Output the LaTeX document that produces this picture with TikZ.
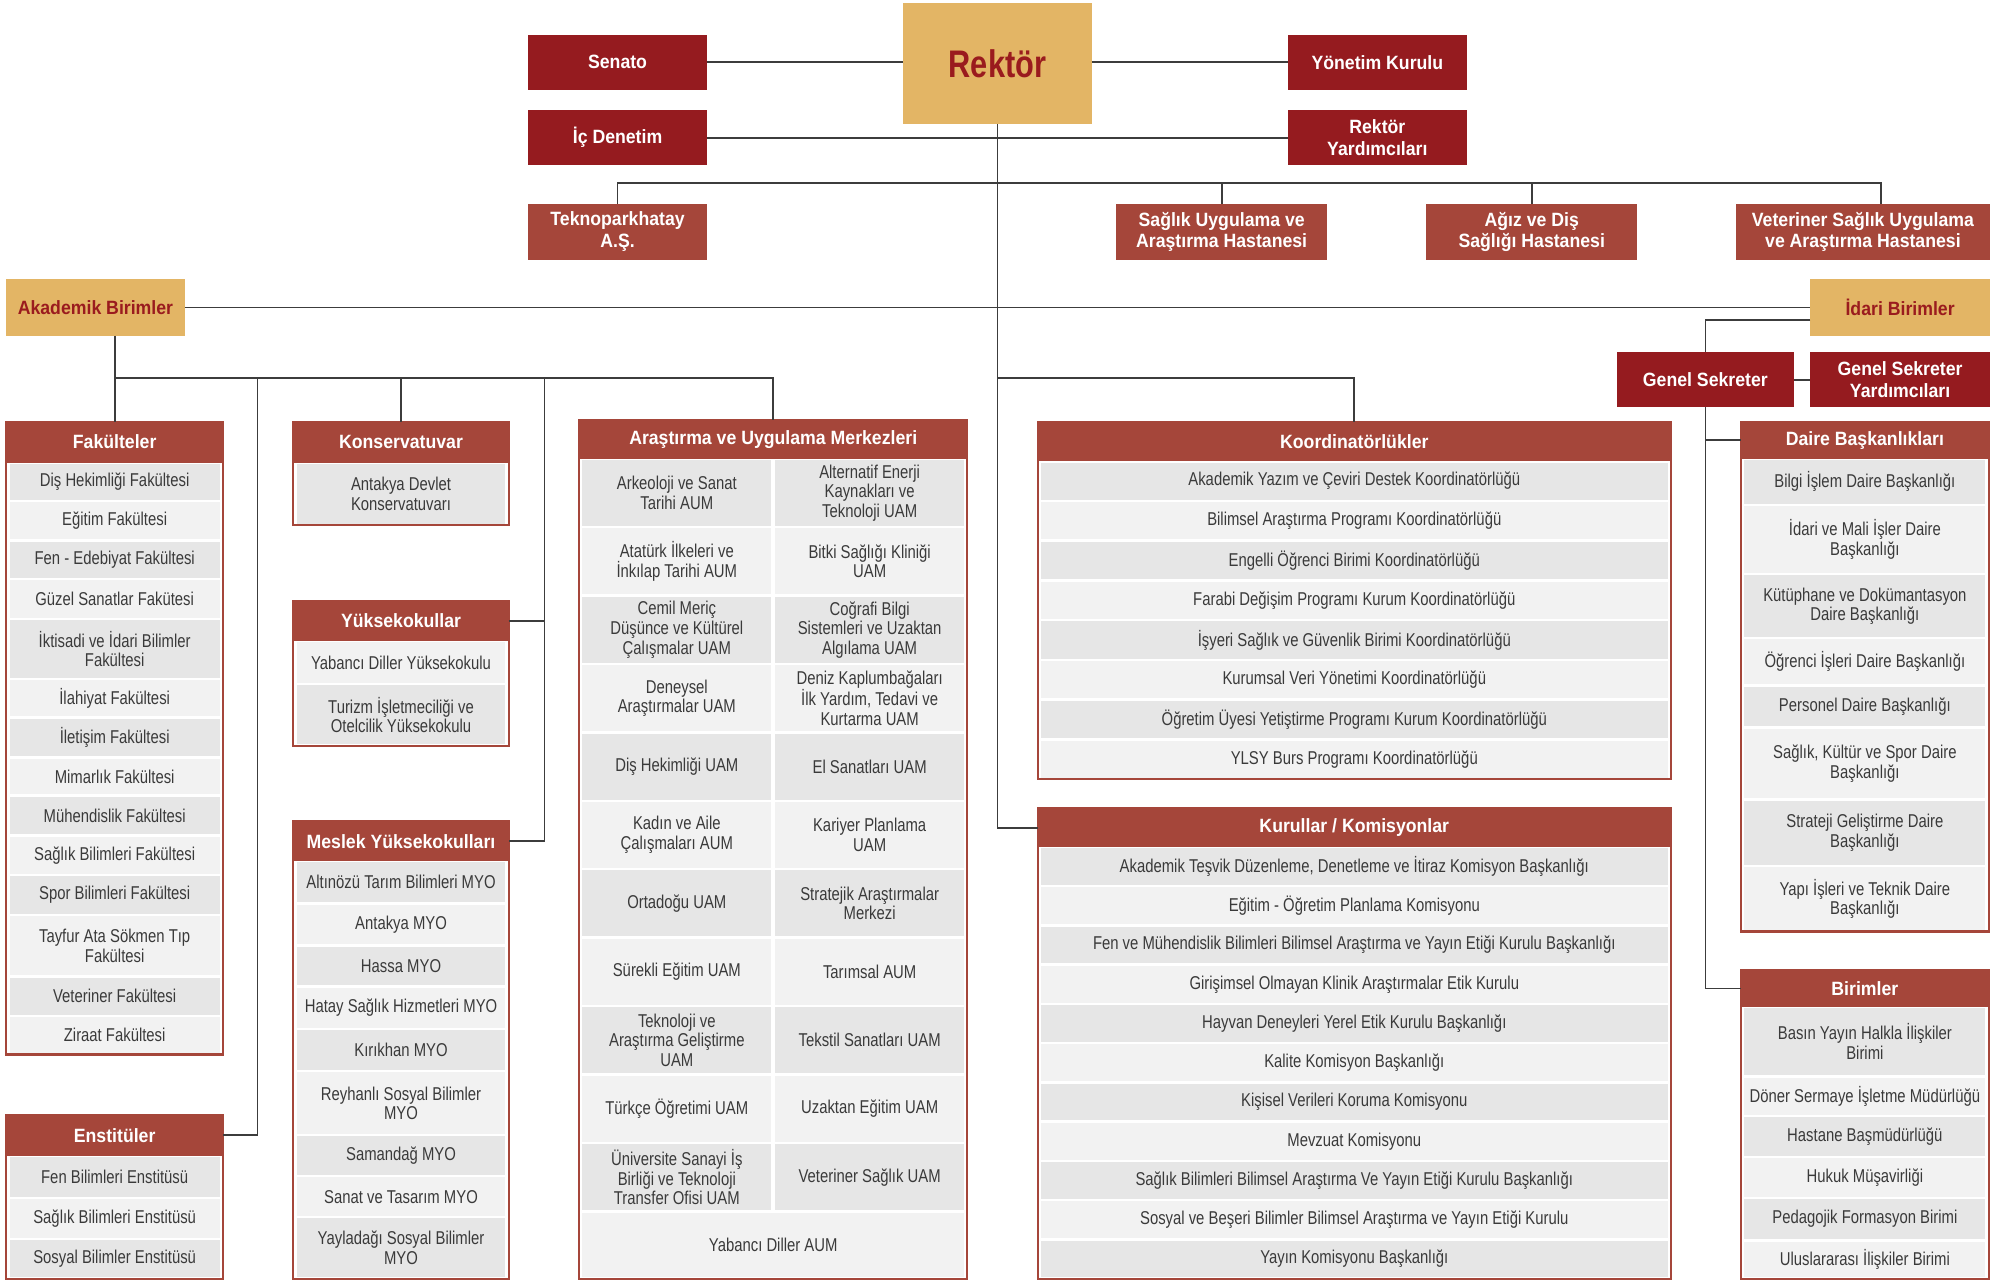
\documentclass[tikz,border=0pt]{standalone}
\usepackage{fontspec}
\setmainfont{Liberation Sans}[FakeStretch=0.8]
\newfontfamily\hfont{Liberation Sans}[FakeStretch=0.92]
\definecolor{topred}{HTML}{951B1F}
\definecolor{hdrc}{HTML}{A5463A}
\definecolor{goldc}{HTML}{E3B565}
\definecolor{goldtxt}{HTML}{9A1B1E}
\definecolor{cellD}{HTML}{E6E6E6}
\definecolor{cellL}{HTML}{F2F2F2}
\definecolor{celltxt}{HTML}{3A3A3A}
\definecolor{linec}{HTML}{3C3C3C}
\newcommand\mybox[7]{\node[#6, minimum width={(#4)-(#2)}, minimum height={(#5)-(#3)}] (#1) at ({((#2)+(#4))/2},{((#3)+(#5))/2}) {#7};}
\newcommand\mycell[7]{\node[#6, minimum width={(#4)-(#2)-5}, minimum height={(#5)-(#3)-2}] (#1) at ({((#2)+(#4))/2},{((#3)+(#5))/2}) {#7};}
\tikzset{
 base/.style={inner sep=0pt, outer sep=0pt, align=center},
 topred/.style={base, fill=topred, text=white, font=\hfont\bfseries\fontsize{15}{17}\selectfont},
 topbrown/.style={base, fill=hdrc, text=white, font=\hfont\bfseries\fontsize{15}{17}\selectfont},
 goldbox/.style={base, fill=goldc, text=goldtxt, font=\hfont\bfseries\fontsize{15}{17}\selectfont},
 hdr/.style={base, fill=hdrc, text=white, font=\hfont\bfseries\fontsize{15}{17}\selectfont},
 cD/.style={base, fill=cellD, text=celltxt, font=\fontsize{14.5}{15.3}\selectfont},
 cL/.style={cD, fill=cellL},
 frame/.style={draw=hdrc, line width=1.6pt},
 conn/.style={draw=linec, line width=1.3pt},
}
\begin{document}
\begin{tikzpicture}[x=1pt,y=-1pt]
\useasboundingbox[fill=white] (0,0) rectangle (1568,999);
% ---------- top ----------
\mybox{senato}{412}{27}{552}{70}{topred}{Senato}
\mybox{icd}{412}{86}{552}{129}{topred}{İç Denetim}
\mybox{tekno}{412}{159}{552}{203}{topbrown}{Teknoparkhatay\\A.Ş.}
\mybox{rektor}{705}{2}{852}{97}{goldbox,font=\hfont\bfseries\fontsize{30}{32}\selectfont}{\addfontfeature{FakeStretch=0.8}Rektör}
\mybox{yonetim}{1005}{27}{1145}{70}{topred}{Yönetim Kurulu}
\mybox{rya}{1005}{86}{1145}{129}{topred}{Rektör\\Yardımcıları}
\mybox{sagh}{871}{159}{1036}{203}{topbrown}{Sağlık Uygulama ve\\Araştırma Hastanesi}
\mybox{agiz}{1113}{159}{1278}{203}{topbrown}{Ağız ve Diş\\Sağlığı Hastanesi}
\mybox{vethos}{1355}{159}{1553}{203}{topbrown}{Veteriner Sağlık Uygulama\\ve Araştırma Hastanesi}
\mybox{akad}{5}{218}{144}{262}{goldbox}{Akademik Birimler}
\mybox{idari}{1413}{218}{1553}{262}{goldbox}{İdari Birimler}
\mybox{gensek}{1262}{275}{1400}{318}{topred}{Genel Sekreter}
\mybox{gsy}{1413}{275}{1553}{318}{topred}{Genel Sekreter\\Yardımcıları}
% ---------- Fakülteler ----------
\mybox{fak}{5}{329}{174}{361}{hdr}{Fakülteler}
\mycell{f1}{5}{361}{174}{391}{cD}{Diş Hekimliği Fakültesi}
\mycell{f2}{5}{391}{174}{422}{cL}{Eğitim Fakültesi}
\mycell{f3}{5}{422}{174}{452}{cD}{Fen - Edebiyat Fakültesi}
\mycell{f4}{5}{452}{174}{483}{cL}{Güzel Sanatlar Fakütesi}
\mycell{f5}{5}{483}{174}{530}{cD}{İktisadi ve İdari Bilimler\\Fakültesi}
\mycell{f6}{5}{530}{174}{560}{cL}{İlahiyat Fakültesi}
\mycell{f7}{5}{560}{174}{591}{cD}{İletişim Fakültesi}
\mycell{f8}{5}{591}{174}{621}{cL}{Mimarlık Fakültesi}
\mycell{f9}{5}{621}{174}{652}{cD}{Mühendislik Fakültesi}
\mycell{f10}{5}{652}{174}{683}{cL}{Sağlık Bilimleri Fakültesi}
\mycell{f11}{5}{683}{174}{714}{cD}{Spor Bilimleri Fakültesi}
\mycell{f12}{5}{714}{174}{762}{cL}{Tayfur Ata Sökmen Tıp\\Fakültesi}
\mycell{f13}{5}{762}{174}{793}{cD}{Veteriner Fakültesi}
\mycell{f14}{5}{793}{174}{823}{cL}{Ziraat Fakültesi}
\draw[frame] (5,329) rectangle (174,823);
% ---------- Enstitüler ----------
\mybox{enst}{5}{870}{174}{902}{hdr}{Enstitüler}
\mycell{e1}{5}{902}{174}{935}{cD}{Fen Bilimleri Enstitüsü}
\mycell{e2}{5}{935}{174}{967}{cL}{Sağlık Bilimleri Enstitüsü}
\mycell{e3}{5}{967}{174}{998}{cD}{Sosyal Bilimler Enstitüsü}
\draw[frame] (5,870) rectangle (174,998);
% ---------- Konservatuvar ----------
\mybox{kons}{229}{329}{397}{361}{hdr}{Konservatuvar}
\mycell{k1}{229}{361}{397}{410}{cD}{Antakya Devlet\\Konservatuvarı}
\draw[frame] (229,329) rectangle (397,410);
% ---------- Yüksekokullar ----------
\mybox{yuk}{229}{469}{397}{500}{hdr}{Yüksekokullar}
\mycell{y1}{229}{500}{397}{534}{cL}{Yabancı Diller Yüksekokulu}
\mycell{y2}{229}{534}{397}{582}{cD}{Turizm İşletmeciliği ve\\Otelcilik Yüksekokulu}
\draw[frame] (229,469) rectangle (397,582);
% ---------- Meslek Yüksekokulları ----------
\mybox{myo}{229}{641}{397}{672}{hdr}{Meslek Yüksekokulları}
\mycell{m1}{229}{672}{397}{705}{cD}{Altınözü Tarım Bilimleri MYO}
\mycell{m2}{229}{705}{397}{738}{cL}{Antakya MYO}
\mycell{m3}{229}{738}{397}{770}{cD}{Hassa MYO}
\mycell{m4}{229}{770}{397}{803}{cL}{Hatay Sağlık Hizmetleri MYO}
\mycell{m5}{229}{803}{397}{836}{cD}{Kırıkhan MYO}
\mycell{m6}{229}{836}{397}{886}{cL}{Reyhanlı Sosyal Bilimler\\MYO}
\mycell{m7}{229}{886}{397}{918}{cD}{Samandağ MYO}
\mycell{m8}{229}{918}{397}{950}{cL}{Sanat ve Tasarım MYO}
\mycell{m9}{229}{950}{397}{998}{cD}{Yayladağı Sosyal Bilimler\\MYO}
\draw[frame] (229,641) rectangle (397,998);
% ---------- ARUM ----------
\mybox{arum}{452}{328}{755}{358}{hdr}{Araştırma ve Uygulama Merkezleri}
\mycell{a1l}{452}{358}{604.5}{411.4}{cD}{Arkeoloji ve Sanat\\Tarihi AUM}
\mycell{a1r}{602.5}{358}{755}{411.4}{cD}{Alternatif Enerji\\Kaynakları ve\\Teknoloji UAM}
\mycell{a2l}{452}{411.4}{604.5}{464.8}{cL}{Atatürk İlkeleri ve\\İnkılap Tarihi AUM}
\mycell{a2r}{602.5}{411.4}{755}{464.8}{cL}{Bitki Sağlığı Kliniği\\UAM}
\mycell{a3l}{452}{464.8}{604.5}{518.2}{cD}{Cemil Meriç\\Düşünce ve Kültürel\\Çalışmalar UAM}
\mycell{a3r}{602.5}{464.8}{755}{518.2}{cD}{Coğrafi Bilgi\\Sistemleri ve Uzaktan\\Algılama UAM}
\mycell{a4l}{452}{518.2}{604.5}{571.6}{cL}{Deneysel\\Araştırmalar UAM}
\mycell{a4r}{602.5}{518.2}{755}{571.6}{cL}{Deniz Kaplumbağaları\\İlk Yardım, Tedavi ve\\Kurtarma UAM}
\mycell{a5l}{452}{571.6}{604.5}{625}{cD}{Diş Hekimliği UAM}
\mycell{a5r}{602.5}{571.6}{755}{625}{cD}{El Sanatları UAM}
\mycell{a6l}{452}{625}{604.5}{678.4}{cL}{Kadın ve Aile\\Çalışmaları AUM}
\mycell{a6r}{602.5}{625}{755}{678.4}{cL}{Kariyer Planlama\\UAM}
\mycell{a7l}{452}{678.4}{604.5}{731.8}{cD}{Ortadoğu UAM}
\mycell{a7r}{602.5}{678.4}{755}{731.8}{cD}{Stratejik Araştırmalar\\Merkezi}
\mycell{a8l}{452}{731.8}{604.5}{785.2}{cL}{Sürekli Eğitim UAM}
\mycell{a8r}{602.5}{731.8}{755}{785.2}{cL}{Tarımsal AUM}
\mycell{a9l}{452}{785.2}{604.5}{838.6}{cD}{Teknoloji ve\\Araştırma Geliştirme\\UAM}
\mycell{a9r}{602.5}{785.2}{755}{838.6}{cD}{Tekstil Sanatları UAM}
\mycell{a10l}{452}{838.6}{604.5}{892}{cL}{Türkçe Öğretimi UAM}
\mycell{a10r}{602.5}{838.6}{755}{892}{cL}{Uzaktan Eğitim UAM}
\mycell{a11l}{452}{892}{604.5}{945.4}{cD}{Üniversite Sanayi İş\\Birliği ve Teknoloji\\Transfer Ofisi UAM}
\mycell{a11r}{602.5}{892}{755}{945.4}{cD}{Veteriner Sağlık UAM}
\mycell{a12}{452}{945.4}{755}{998}{cL}{Yabancı Diller AUM}
\draw[frame] (452,328) rectangle (755,998);
% ---------- Koordinatörlükler ----------
\mybox{koord}{810}{329}{1304}{360}{hdr}{Koordinatörlükler}
\mycell{c1}{810}{360}{1304}{391}{cD}{Akademik Yazım ve Çeviri Destek Koordinatörlüğü}
\mycell{c2}{810}{391}{1304}{422}{cL}{Bilimsel Araştırma Programı Koordinatörlüğü}
\mycell{c3}{810}{422}{1304}{453}{cD}{Engelli Öğrenci Birimi Koordinatörlüğü}
\mycell{c4}{810}{453}{1304}{484}{cL}{Farabi Değişim Programı Kurum Koordinatörlüğü}
\mycell{c5}{810}{484}{1304}{515}{cD}{İşyeri Sağlık ve Güvenlik Birimi Koordinatörlüğü}
\mycell{c6}{810}{515}{1304}{546}{cL}{Kurumsal Veri Yönetimi Koordinatörlüğü}
\mycell{c7}{810}{546}{1304}{577}{cD}{Öğretim Üyesi Yetiştirme Programı Kurum Koordinatörlüğü}
\mycell{c8}{810}{577}{1304}{608}{cL}{YLSY Burs Programı Koordinatörlüğü}
\draw[frame] (810,329) rectangle (1304,608);
% ---------- Kurullar / Komisyonlar ----------
\mybox{kurul}{810}{631}{1304}{661}{hdr}{Kurullar / Komisyonlar}
\mycell{u1}{810}{661}{1304}{691.6}{cD}{Akademik Teşvik Düzenleme, Denetleme ve İtiraz Komisyon Başkanlığı}
\mycell{u2}{810}{691.6}{1304}{722.3}{cL}{Eğitim - Öğretim Planlama Komisyonu}
\mycell{u3}{810}{722.3}{1304}{752.9}{cD}{Fen ve Mühendislik Bilimleri Bilimsel Araştırma ve Yayın Etiği Kurulu Başkanlığı}
\mycell{u4}{810}{752.9}{1304}{783.5}{cL}{Girişimsel Olmayan Klinik Araştırmalar Etik Kurulu}
\mycell{u5}{810}{783.5}{1304}{814.2}{cD}{Hayvan Deneyleri Yerel Etik Kurulu Başkanlığı}
\mycell{u6}{810}{814.2}{1304}{844.8}{cL}{Kalite Komisyon Başkanlığı}
\mycell{u7}{810}{844.8}{1304}{875.5}{cD}{Kişisel Verileri Koruma Komisyonu}
\mycell{u8}{810}{875.5}{1304}{906.1}{cL}{Mevzuat Komisyonu}
\mycell{u9}{810}{906.1}{1304}{936.7}{cD}{Sağlık Bilimleri Bilimsel Araştırma Ve Yayın Etiği Kurulu Başkanlığı}
\mycell{u10}{810}{936.7}{1304}{967.4}{cL}{Sosyal ve Beşeri Bilimler Bilimsel Araştırma ve Yayın Etiği Kurulu}
\mycell{u11}{810}{967.4}{1304}{998}{cD}{Yayın Komisyonu Başkanlığı}
\draw[frame] (810,631) rectangle (1304,998);
% ---------- Daire Başkanlıkları ----------
\mybox{daire}{1359}{329}{1552}{358}{hdr}{Daire Başkanlıkları}
\mycell{d1}{1359}{358}{1552}{394}{cD}{Bilgi İşlem Daire Başkanlığı}
\mycell{d2}{1359}{394}{1552}{448}{cL}{İdari ve Mali İşler Daire\\Başkanlığı}
\mycell{d3}{1359}{448}{1552}{498}{cD}{Kütüphane ve Dokümantasyon\\Daire Başkanlığı}
\mycell{d4}{1359}{498}{1552}{535}{cL}{Öğrenci İşleri Daire Başkanlığı}
\mycell{d5}{1359}{535}{1552}{568}{cD}{Personel Daire Başkanlığı}
\mycell{d6}{1359}{568}{1552}{624}{cL}{Sağlık, Kültür ve Spor Daire\\Başkanlığı}
\mycell{d7}{1359}{624}{1552}{676}{cD}{Strateji Geliştirme Daire\\Başkanlığı}
\mycell{d8}{1359}{676}{1552}{727}{cL}{Yapı İşleri ve Teknik Daire\\Başkanlığı}
\draw[frame] (1359,329) rectangle (1552,727);
% ---------- Birimler ----------
\mybox{birim}{1359}{757}{1552}{786}{hdr}{Birimler}
\mycell{b1}{1359}{786}{1552}{840}{cD}{Basın Yayın Halkla İlişkiler\\Birimi}
\mycell{b2}{1359}{840}{1552}{871}{cL}{Döner Sermaye İşletme Müdürlüğü}
\mycell{b3}{1359}{871}{1552}{903}{cD}{Hastane Başmüdürlüğü}
\mycell{b4}{1359}{903}{1552}{935}{cL}{Hukuk Müşavirliği}
\mycell{b5}{1359}{935}{1552}{968}{cD}{Pedagojik Formasyon Birimi}
\mycell{b6}{1359}{968}{1552}{998}{cL}{Uluslararası İlişkiler Birimi}
\draw[frame] (1359,757) rectangle (1552,998);
% ---------- connectors ----------
\coordinate (hb) at (0,143);
\coordinate (ab) at (0,295);
\coordinate (ej) at (201,295);
\coordinate (mj) at (425,295);
\coordinate (vetc) at ([xshift=14pt]vethos.north);
\draw[conn] (senato.east) -- (senato.east -| rektor.west);
\draw[conn] (rektor.east |- yonetim.west) -- (yonetim.west);
\draw[conn] (icd.east) -- (rya.west);
\draw[conn] (rektor.south) -- (rektor.south |- kurul.west) -- (kurul.west);
\draw[conn] (tekno.north) -- (tekno.north |- hb) -- (vetc |- hb) -- (vetc);
\draw[conn] (sagh.north) -- (sagh.north |- hb);
\draw[conn] (agiz.north) -- (agiz.north |- hb);
\draw[conn] (akad.east) -- (idari.west);
\draw[conn] (fak.north |- akad.south) -- (fak.north);
\draw[conn] (fak.north |- ab) -- (arum.north |- ab) -- (arum.north);
\draw[conn] (kons.north |- ab) -- (kons.north);
\draw[conn] (ej) |- (enst.east);
\draw[conn] (mj) |- (myo.east);
\draw[conn] (yuk.east) -- (yuk.east -| mj);
\draw[conn] (rektor.south |- ab) -| (koord.north);
\draw[conn] ([yshift=-10pt]idari.west) -| (gensek.north);
\draw[conn] (gensek.east) -- (gsy.west);
\draw[conn] (gensek.south) |- (birim.west);
\draw[conn] (gensek.south |- daire.west) -- (daire.west);
\end{tikzpicture}
\end{document}
